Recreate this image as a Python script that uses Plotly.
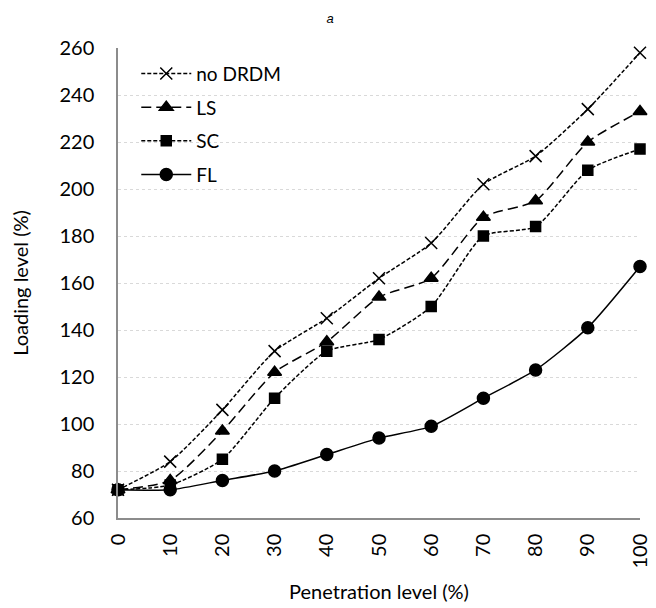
import plotly.graph_objects as go

x_vals = [0, 10, 20, 30, 40, 50, 60, 70, 80, 90, 100]
no_drdm = [72, 84, 106, 131, 145, 162, 177, 202, 214, 234, 258]
ls_vals = [72, 76, 97, 122, 135, 154, 162, 188, 195, 220, 233]
sc_vals = [72, 74, 85, 111, 131, 136, 150, 180, 184, 208, 217]
fl_vals = [72, 72, 76, 80, 87, 94, 99, 111, 123, 141, 167]

series = [
    ("no DRDM", no_drdm, "x-thin", 12, "4px,2px"),
    ("LS", ls_vals, "triangle-up", 12, "10px,5px"),
    ("SC", sc_vals, "square", 10, "4px,2px"),
    ("FL", fl_vals, "circle", 12, "solid"),
]

fig = go.Figure()
for name, ys, sym, sz, dash in series:
    fig.add_trace(go.Scatter(
        x=x_vals, y=ys, name=name, mode="lines+markers", legendgroup=name,
        line=dict(color="black", width=1.5, dash=dash, shape="spline", smoothing=0.6),
        marker=dict(symbol=sym, size=sz, color="black",
                    line=dict(color="black", width=1.5)),
        cliponaxis=False,
    ))

font_family = "Lato, Open Sans, sans-serif"
fig.update_layout(
    width=656, height=608,
    paper_bgcolor="white", plot_bgcolor="white",
    margin=dict(l=110, r=24, t=40, b=98),
    title=dict(text="<i>a</i>", x=0.491, xanchor="center", y=0.99, yanchor="top",
               font=dict(family="Liberation Sans, Arial", size=13, color="black")),
    font=dict(family=font_family, color="black"),
    legend=dict(x=0.035, y=0.986, xanchor="left", yanchor="top",
                bgcolor="rgba(255,255,255,0)", font=dict(size=19, color="black"),
                tracegroupgap=6, itemwidth=50),
    showlegend=True,
)
fig.update_xaxes(
    range=[0, 100], tickvals=x_vals, ticktext=[str(v) for v in x_vals],
    tickangle=-90, tickfont=dict(size=20, color="black"), ticklabelstandoff=6,
    showgrid=False, showline=True, linecolor="#8c8c8c", linewidth=1.5,
    ticks="", zeroline=False, automargin=False,
    title=dict(text="Penetration level (%)", font=dict(size=20, color="black"), standoff=17),
)
fig.update_yaxes(
    range=[60, 260], dtick=20, tickfont=dict(size=20, color="black"), ticklabelstandoff=18,
    showgrid=True, gridcolor="#d9d9d9", griddash="dot", gridwidth=1,
    showline=True, linecolor="#8c8c8c", linewidth=1.5, ticks="", zeroline=False,
    automargin=False,
    title=dict(text="Loading level (%)", font=dict(size=20, color="black"), standoff=30),
)
fig.write_html("out.html")
